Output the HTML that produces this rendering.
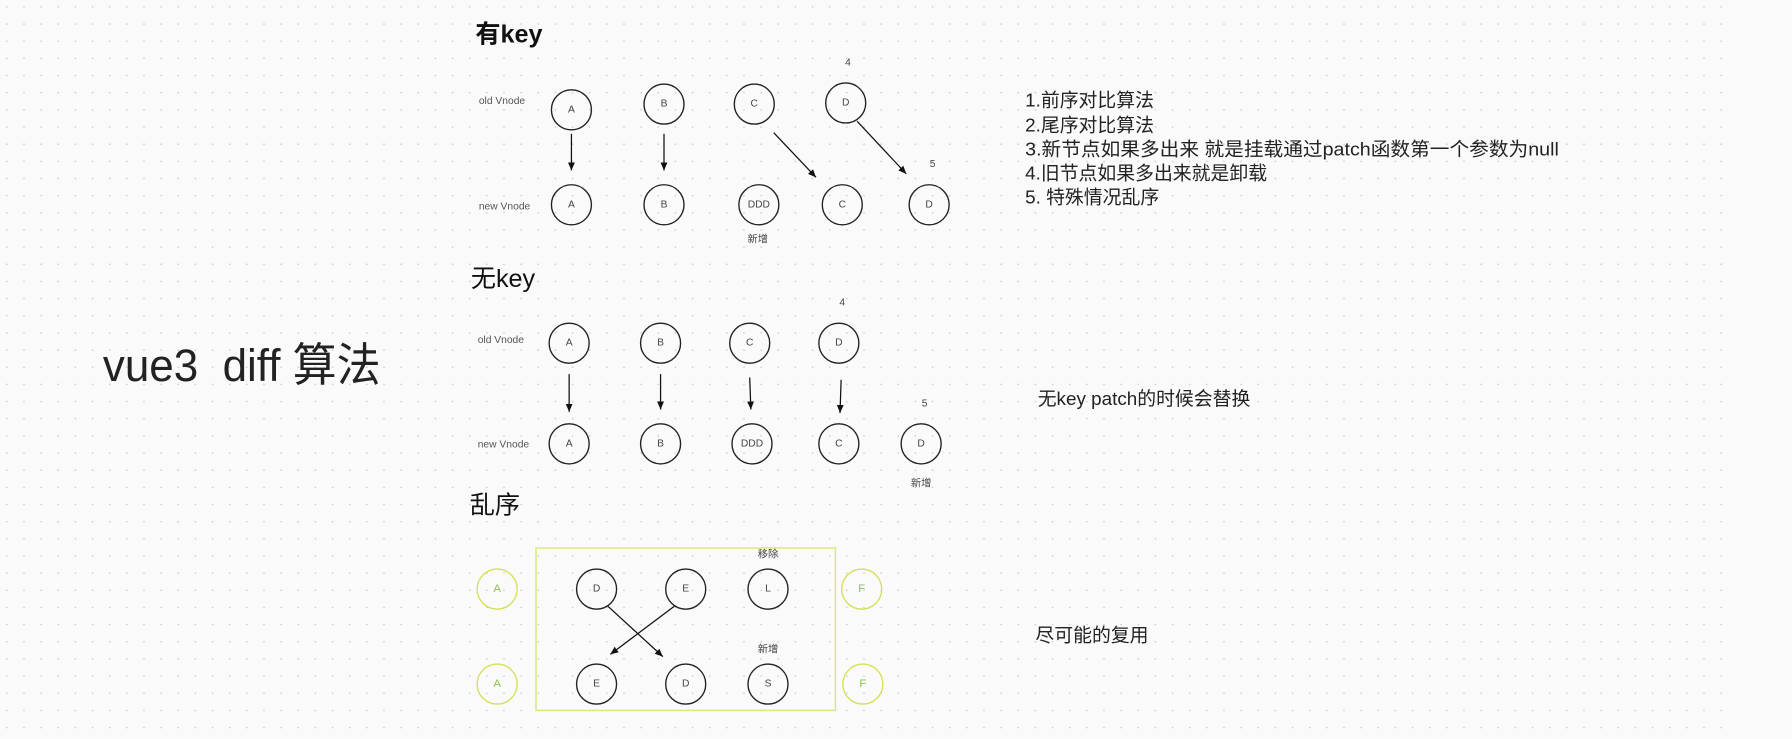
<!DOCTYPE html>
<html><head><meta charset="utf-8"><style>
html,body{margin:0;padding:0;background:#fafafa;}
svg{display:block;}
text{font-family:"Liberation Sans","Noto Sans CJK SC",sans-serif;fill:#222;}
.s{font-size:9px;fill:#555;}
.n{font-size:9px;fill:#444;text-anchor:middle;dominant-baseline:central;}
.g{font-size:10px;fill:#8bc34a;text-anchor:middle;dominant-baseline:central;}
.h{font-size:22px;fill:#111;}
.l{font-size:16.5px;fill:#222;}
</style></head><body>
<svg width="1792" height="739" viewBox="0 0 1568 646" preserveAspectRatio="none" xmlns="http://www.w3.org/2000/svg">
<defs>
<pattern id="dots" width="15" height="15" patternUnits="userSpaceOnUse" x="5" y="5">
<circle cx="1" cy="1" r="0.7" fill="#c8c8c8"/></pattern>
<marker id="ar" markerWidth="8" markerHeight="8" refX="7" refY="4" orient="auto" markerUnits="userSpaceOnUse"><path d="M0,1 L7,4 L0,7 Z" fill="#111"/></marker>
</defs>
<rect width="1568" height="646" fill="#fafafa"/>
<rect width="1515" height="646" fill="url(#dots)"/>
<text x="90" y="333" style="font-size:40px;fill:#222;white-space:pre" xml:space="preserve" textLength="243" lengthAdjust="spacingAndGlyphs">vue3  diff 算法</text>

<text x="416" y="37" class="h" style="font-weight:bold">有key</text>
<text x="419" y="91" class="s">old Vnode</text>
<text x="419" y="183" class="s">new Vnode</text>
<g fill="none" stroke="#222" stroke-width="1.2">
<circle cx="500" cy="96" r="17.5"/><circle cx="581" cy="91" r="17.5"/><circle cx="660" cy="91" r="17.5"/><circle cx="740" cy="90" r="17.5"/>
<circle cx="500" cy="179" r="17.5"/><circle cx="581" cy="179" r="17.5"/><circle cx="664" cy="179" r="17.5"/><circle cx="737" cy="179" r="17.5"/><circle cx="813" cy="179" r="17.5"/>
</g>
<text class="n" x="500" y="96">A</text><text class="n" x="581" y="91">B</text><text class="n" x="660" y="91">C</text><text class="n" x="740" y="90">D</text>
<text class="n" x="500" y="179">A</text><text class="n" x="581" y="179">B</text><text class="n" x="664" y="179">DDD</text><text class="n" x="737" y="179">C</text><text class="n" x="813" y="179">D</text>
<text class="n" x="742" y="55">4</text><text class="n" x="816" y="144">5</text><text class="n" x="663" y="210">新增</text>
<g stroke="#111" stroke-width="1.1" marker-end="url(#ar)">
<line x1="500" y1="117" x2="500" y2="149"/><line x1="581" y1="117" x2="581" y2="149"/>
<line x1="677" y1="116" x2="714" y2="155"/><line x1="750" y1="106" x2="793" y2="152"/>
</g>
<text x="897" y="93" class="l">1.前序对比算法</text>
<text x="897" y="115" class="l">2.尾序对比算法</text>
<text x="897" y="136" class="l" textLength="467" lengthAdjust="spacingAndGlyphs">3.新节点如果多出来 就是挂载通过patch函数第一个参数为null</text>
<text x="897" y="157" class="l">4.旧节点如果多出来就是卸载</text>
<text x="897" y="178" class="l">5. 特殊情况乱序</text>

<text x="412" y="251" class="h">无key</text>
<text x="418" y="300" class="s">old Vnode</text>
<text x="418" y="391" class="s">new Vnode</text>
<g fill="none" stroke="#222" stroke-width="1.2">
<circle cx="498" cy="300" r="17.5"/><circle cx="578" cy="300" r="17.5"/><circle cx="656" cy="300" r="17.5"/><circle cx="734" cy="300" r="17.5"/>
<circle cx="498" cy="388" r="17.5"/><circle cx="578" cy="388" r="17.5"/><circle cx="658" cy="388" r="17.5"/><circle cx="734" cy="388" r="17.5"/><circle cx="806" cy="388" r="17.5"/>
</g>
<text class="n" x="498" y="300">A</text><text class="n" x="578" y="300">B</text><text class="n" x="656" y="300">C</text><text class="n" x="734" y="300">D</text>
<text class="n" x="498" y="388">A</text><text class="n" x="578" y="388">B</text><text class="n" x="658" y="388">DDD</text><text class="n" x="734" y="388">C</text><text class="n" x="806" y="388">D</text>
<text class="n" x="737" y="265">4</text><text class="n" x="809" y="353">5</text><text class="n" x="806" y="423">新增</text>
<g stroke="#111" stroke-width="1.1" marker-end="url(#ar)">
<line x1="498" y1="327" x2="498" y2="360"/><line x1="578" y1="327" x2="578" y2="358"/>
<line x1="656" y1="330" x2="657" y2="358"/><line x1="736" y1="332" x2="735" y2="361"/>
</g>
<text x="908" y="354" class="l">无key patch的时候会替换</text>

<text x="411" y="449" class="h">乱序</text>
<rect x="469" y="479" width="262" height="142" fill="none" stroke="#dde87a" stroke-width="1.3"/>
<g fill="none" stroke="#d4e157" stroke-width="1.2">
<circle cx="435" cy="515" r="17.5"/><circle cx="435" cy="598" r="17.5"/><circle cx="754" cy="515" r="17.5"/><circle cx="755" cy="598" r="17.5"/>
</g>
<text class="g" x="435" y="515">A</text><text class="g" x="435" y="598">A</text><text class="g" x="754" y="515">F</text><text class="g" x="755" y="598">F</text>
<g fill="none" stroke="#222" stroke-width="1.2">
<circle cx="522" cy="515" r="17.5"/><circle cx="600" cy="515" r="17.5"/><circle cx="672" cy="515" r="17.5"/>
<circle cx="522" cy="598" r="17.5"/><circle cx="600" cy="598" r="17.5"/><circle cx="672" cy="598" r="17.5"/>
</g>
<text class="n" x="522" y="515">D</text><text class="n" x="600" y="515">E</text><text class="n" x="672" y="515">L</text>
<text class="n" x="522" y="598">E</text><text class="n" x="600" y="598">D</text><text class="n" x="672" y="598">S</text>
<text class="n" x="672" y="485">移除</text><text class="n" x="672" y="568">新增</text>
<g stroke="#111" stroke-width="1.1" marker-end="url(#ar)">
<line x1="532" y1="530" x2="580" y2="574"/><line x1="590" y1="530" x2="534" y2="572"/>
</g>
<text x="906" y="561" class="l">尽可能的复用</text>
</svg>
</body></html>
